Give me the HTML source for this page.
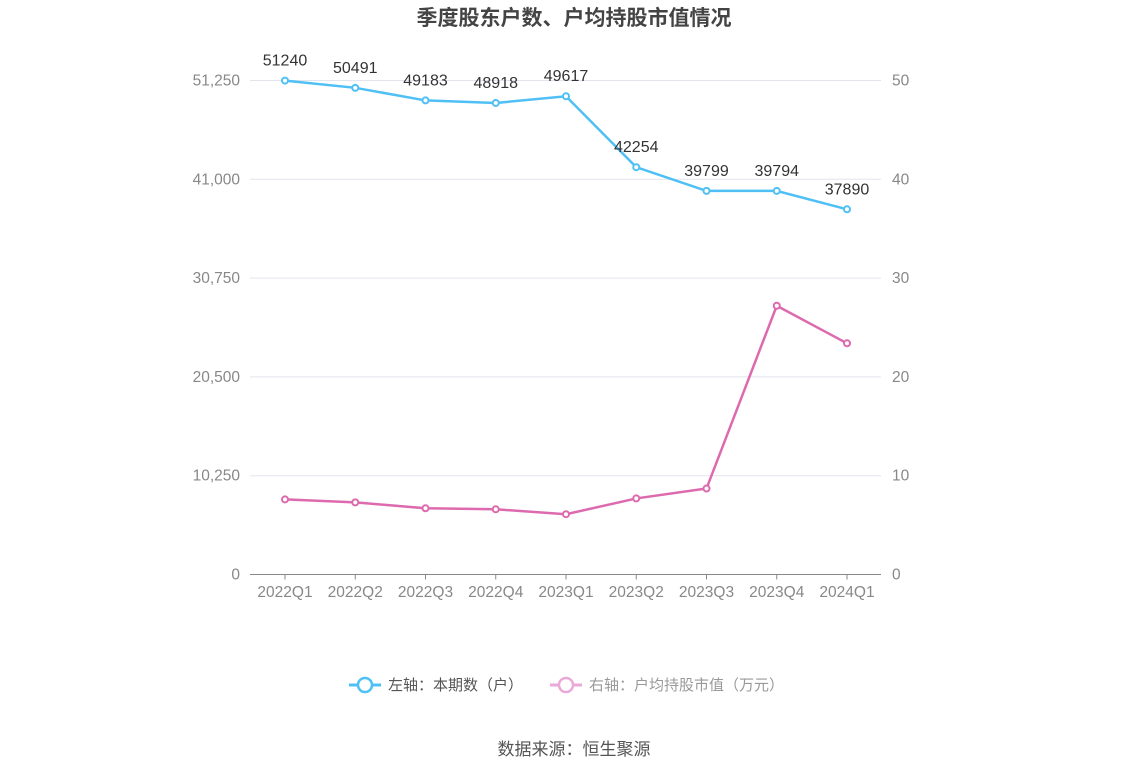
<!DOCTYPE html>
<html><head><meta charset="utf-8"><style>
body{margin:0;background:#fff;font-family:"Liberation Sans","Noto Sans CJK SC",sans-serif;}
svg text{font-family:"Liberation Sans","Noto Sans CJK SC",sans-serif;}
</style></head><body>
<svg id="c" width="1148" height="776">
<text x="574" y="25" text-anchor="middle" font-size="21" font-weight="bold" fill="#444">季度股东户数、户均持股市值情况</text>
<g id="grid"></g><g id="marks"></g>
<g>
<g><line x1="349" y1="685" x2="381" y2="685" stroke="#4fc0f5" stroke-width="3"/><circle cx="365" cy="685" r="7" fill="#fff" stroke="#4fc0f5" stroke-width="2.5"/><text x="388" y="690" font-size="15" fill="#555">左轴：本期数（户）</text></g>
<g><line x1="550" y1="685" x2="582" y2="685" stroke="#eaaad8" stroke-width="3"/><circle cx="566" cy="685" r="7" fill="#fff" stroke="#eaaad8" stroke-width="2.5"/><text x="589" y="690" font-size="15" fill="#999">右轴：户均持股市值（万元）</text></g>
</g>
<text x="574" y="755" text-anchor="middle" font-size="17" fill="#555">数据来源：恒生聚源</text>
</svg>
<script>
const categories=["2022Q1","2022Q2","2022Q3","2022Q4","2023Q1","2023Q2","2023Q3","2023Q4","2024Q1"];
const holders=[51240,50491,49183,48918,49617,42254,39799,39794,37890];
const avgValue=[7.6,7.3,6.7,6.6,6.1,7.7,8.7,27.2,23.4];
const leftTicks=[0,10250,20500,30750,41000,51250];
const rightTicks=[0,10,20,30,40,50];
const NS="http://www.w3.org/2000/svg";
const x0=285,dx=70.25,yb=574.5,yt=80.5;
const xs=i=>x0+i*dx;
const yl=v=>yb-(v/51250)*(yb-yt);
const yr=v=>yb-(v/50)*(yb-yt);
function mk(t,a,p){const e=document.createElementNS(NS,t);for(const k in a)e.setAttribute(k,a[k]);p.appendChild(e);return e;}
const g=document.getElementById('grid'),m=document.getElementById('marks');
leftTicks.forEach((v,i)=>{
 const y=yl(v);
 if(v>0){const l=mk('line',{x1:250,x2:881,y1:y,y2:y,stroke:'#e3e5ee'},g);
 
 }
 const t=mk('text',{x:240,y:y+5,'text-anchor':'end','font-size':15.5,fill:'#888'},g);t.textContent=v.toLocaleString('en-US');
 
 
 const r=mk('text',{x:892,y:yr(rightTicks[i])+5,'font-size':15.5,fill:'#888'},g);r.textContent=rightTicks[i];
 
 
});
const ax=mk('line',{x1:250,x2:881,y1:yb,y2:yb,stroke:'#888'},g);


categories.forEach((c,i)=>{
 mk('line',{x1:xs(i),x2:xs(i),y1:yb,y2:yb+5,stroke:'#888'},g);
 const t=mk('text',{x:xs(i),y:597,'text-anchor':'middle','font-size':15.5,fill:'#888'},g);t.textContent=c;
 
 
});
function series(vals,yf,col,name,labels){
 const p=mk('polyline',{points:vals.map((v,i)=>xs(i)+','+yf(v)).join(' '),fill:'none',stroke:col,'stroke-width':2.5},m);
 
 
 vals.forEach((v,i)=>{
  const c=mk('circle',{cx:xs(i),cy:yf(v),r:3,fill:'#fff',stroke:col,'stroke-width':2},m);
  
  
  if(labels){const t=mk('text',{x:xs(i),y:yf(v)-15,'text-anchor':'middle','font-size':16,fill:'#333'},m);t.textContent=v;
  
  }
 });
}
series(holders,yl,'#4fc0f5','holders',true);
series(avgValue,yr,'#dd6aae','avg-value',false);
</script>
</body></html>
